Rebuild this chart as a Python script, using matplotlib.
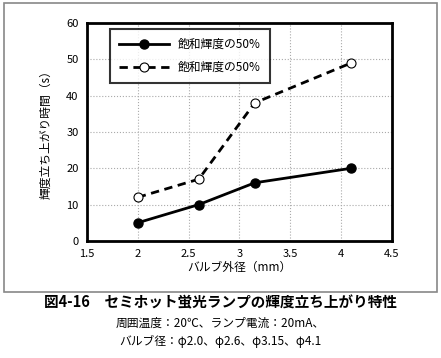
import matplotlib
matplotlib.use("Agg")
import matplotlib.pyplot as plt
from matplotlib.patches import Rectangle

plt.rcParams['font.family'] = ['Noto Sans CJK JP', 'DejaVu Sans']

diam = [2.0, 2.6, 3.15, 4.1]
t_solid = [5, 10, 16, 20]
t_dash = [12, 17, 38, 49]
lab_solid = "飽和輝度の50%"
lab_dash = "飽和輝度の50%"

fig = plt.figure(figsize=(4.41, 3.58), dpi=100)
fig.patches.append(Rectangle((0.009, 0.184), 0.982, 0.807, transform=fig.transFigure,
                             fill=False, edgecolor="#888888", lw=1.2))
ax = fig.add_axes([0.197, 0.327, 0.692, 0.609])

ax.plot(diam, t_solid, "-", color="black", lw=2, marker="o", ms=6.5,
        mfc="black", label=lab_solid)
ax.plot(diam, t_dash, "--", color="black", lw=2, dashes=(3, 2), marker="o", ms=6.5,
        mfc="white", mew=0.8, label=lab_dash)

ax.set_xlim(1.5, 4.5); ax.set_ylim(0, 60)
ax.set_xticks([1.5, 2, 2.5, 3, 3.5, 4, 4.5])
ax.set_xticklabels(["1.5", "2", "2.5", "3", "3.5", "4", "4.5"])
ax.set_yticks(range(0, 61, 10))
ax.tick_params(length=0, labelsize=8, pad=6)
ax.grid(True, color="#aaaaaa", ls=":", lw=0.8)
for s in ax.spines.values():
    s.set_linewidth(2)

ax.set_xlabel("バルブ外径（mm）", fontsize=8.5, labelpad=1)
ax.set_ylabel("輝度立ち上がり時間（s）", fontsize=8.5, labelpad=10)

leg = ax.legend(loc="upper left", bbox_to_anchor=(0.055, 1.0), fontsize=8.5, handlelength=4.2,
                frameon=True, fancybox=False, borderpad=0.8, labelspacing=0.8)
leg.get_frame().set_edgecolor("black"); leg.get_frame().set_linewidth(1.5)

fig.text(0.5, 0.142, "図4-16　セミホット蛍光ランプの輝度立ち上がり特性", ha="center",
         fontsize=10.5, fontweight="bold")
fig.text(0.5, 0.088, "周囲温度：20℃、ランプ電流：20mA、", ha="center", fontsize=8.5)
fig.text(0.5, 0.035, "バルブ径：φ2.0、φ2.6、φ3.15、φ4.1", ha="center", fontsize=8.5)

fig.savefig("out.png", dpi=100)
